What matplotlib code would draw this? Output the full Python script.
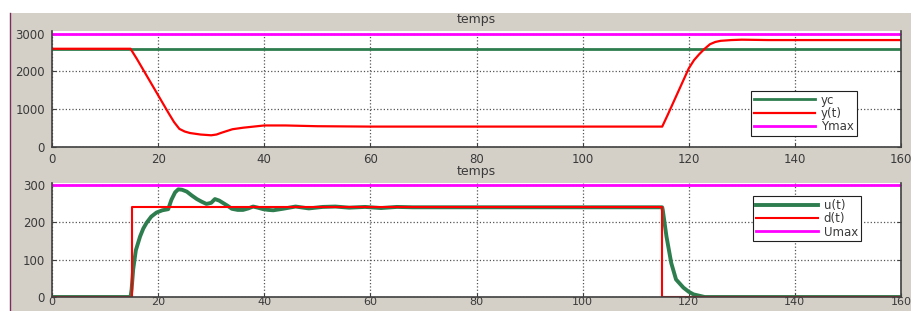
import numpy as np
import matplotlib
matplotlib.use("Agg")
import matplotlib.pyplot as plt
from matplotlib.patches import Rectangle
from matplotlib.lines import Line2D

# top panel: set point, output, limit
yc_val = 2600
ymax_val = 3000
y_t = [0, 14.8, 16, 17, 18, 19, 20, 21, 22, 23, 24, 25, 26, 28, 30, 31, 32, 34,
       36, 38, 40, 44, 50, 60, 115, 116, 117, 118, 119, 120, 121, 122, 123, 124,
       125, 126, 128, 130, 135, 160]
y_v = [2600, 2600, 2330, 2090, 1850, 1610, 1370, 1130, 890, 660, 480, 410, 370,
       330, 310, 330, 380, 470, 510, 540, 570, 570, 550, 540, 540, 840, 1150,
       1460, 1770, 2080, 2300, 2460, 2600, 2720, 2780, 2810, 2830, 2840, 2830,
       2830]

# bottom panel: command, disturbance, limit
umax_val = 300
u_t = [0, 14.8, 15.0, 15.3, 15.8, 16.6, 17.2, 17.8, 18.7, 19.7, 20.8, 21.9,
       22.5, 23.2, 23.8, 24.5, 25.4, 26.3, 27.3, 28.2, 29.1, 30.0, 30.7, 31.5,
       32.3, 33.1, 33.9, 35.0, 36.0, 37.0, 37.9, 38.8, 39.8, 40.8, 41.7, 43.5,
       45.9, 48.4, 51.0, 53.4, 56.0, 59.0, 62.0, 65.0, 68.0, 115.0, 115.1,
       115.8, 116.7, 117.6, 119.0, 120.0, 120.9, 122.1, 123.0, 160]
u_v = [0, 0, 20, 74, 125, 162, 183, 198, 215, 226, 232, 235, 260, 280, 288,
       287, 282, 272, 262, 255, 249, 252, 262, 258, 251, 244, 236, 233, 233,
       237, 242, 239, 235, 233, 232, 236, 242, 237, 241, 242, 239, 241, 238,
       241, 240, 240, 233, 162, 91, 47, 25, 14, 7, 3, 0, 0]
d_t = [0, 15, 15, 115, 115, 160]
d_v = [0, 0, 240, 240, 0, 0]

t_end = 160
green = "#2e7d4f"
txt = "#3a3a3a"
bg = "#d4d0c8"

fig = plt.figure(figsize=(9.11, 3.11), dpi=100, facecolor="white")
fig.patches.append(Rectangle((10 / 911, 0), 1, (311 - 13) / 311,
                             transform=fig.transFigure, facecolor=bg,
                             edgecolor="none", zorder=-10))
fig.lines.append(Line2D([9.5 / 911, 9.5 / 911], [0, (311 - 13) / 311],
                        transform=fig.transFigure, color="#7a2e5a", lw=1))

ax1 = fig.add_axes([52 / 911, 164 / 311, 849 / 911, 116 / 311])
ax2 = fig.add_axes([52 / 911, 14 / 311, 849 / 911, 114 / 311])


def style(ax, yticks, ylim, xpad, xsize):
    ax.set_xlim(0, t_end)
    ax.set_ylim(*ylim)
    ax.set_xticks(range(0, 161, 20))
    ax.set_yticks(yticks)
    ax.grid(True, linestyle=":", color="#555555", linewidth=0.9)
    ax.tick_params(direction="in", length=3, colors="#404040", labelsize=8.5,
                   labelcolor=txt, right=True, pad=5)
    ax.tick_params(axis="x", pad=xpad, labelsize=xsize)
    for s in ["left", "bottom", "right"]:
        ax.spines[s].set_color("#404040")
        ax.spines[s].set_linewidth(1.2)
    ax.spines["top"].set_visible(False)
    ax.set_title("temps", fontsize=9, color=txt, pad=6)


def legend(ax, anchor):
    leg = ax.legend(loc="lower left", bbox_to_anchor=anchor, borderaxespad=0,
                    fontsize=8.5, handlelength=5.2, labelspacing=0.02,
                    borderpad=0.25, handletextpad=0.5, fancybox=False,
                    framealpha=1, edgecolor="#202020", labelcolor=txt)
    leg.get_frame().set_linewidth(0.8)


ax1.plot([0, t_end], [yc_val, yc_val], color=green, lw=2, label="yc")
ax1.plot(y_t, y_v, color="red", lw=1.6, label="y(t)")
ax1.plot([0, t_end], [ymax_val, ymax_val], color="magenta", lw=2, label="Ymax")
style(ax1, [0, 1000, 2000, 3000], (0, 3070), 4, 8.5)
legend(ax1, (0.823, 0.095))

ax2.plot(u_t, u_v, color=green, lw=2.8, label="u(t)")
ax2.plot(d_t, d_v, color="red", lw=1.5, label="d(t)")
ax2.plot([0, t_end], [umax_val, umax_val], color="magenta", lw=2, label="Umax")
style(ax2, [0, 100, 200, 300], (0, 305), 0.3, 8)
legend(ax2, (0.826, 0.487))

fig.savefig("out.png", dpi=100, facecolor=fig.get_facecolor())
